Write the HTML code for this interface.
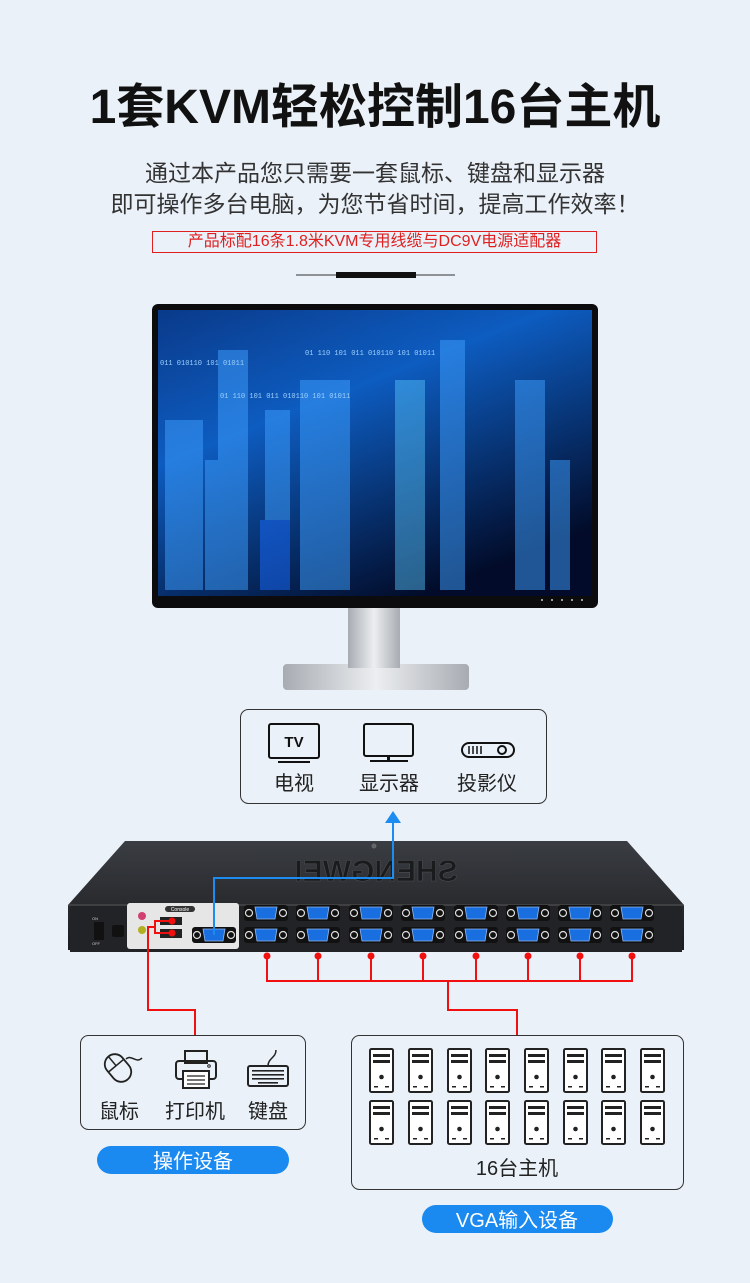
<!DOCTYPE html>
<html><head><meta charset="utf-8"><style>
html,body{margin:0;padding:0;background:#eaf1f8;}
body{width:750px;height:1283px;position:relative;overflow:hidden;font-family:"Liberation Sans","Noto Sans CJK SC",sans-serif;}
.t{position:absolute;left:0;width:750px;text-align:center;color:#111;}
</style></head><body>
<div class="t" style="top:78px;font-size:48px;font-weight:bold;line-height:60px;letter-spacing:0px">1套KVM轻松控制16台主机</div>
<div class="t" style="top:158px;font-size:23px;line-height:31px;color:#333">通过本产品您只需要一套鼠标、键盘和显示器<br>即可操作多台电脑，为您节省时间，提高工作效率！</div>
<div style="position:absolute;left:152px;top:231px;width:443px;height:20px;border:1px solid #e02020;color:#e02020;font-size:16px;line-height:20px;text-align:center">产品标配16条1.8米KVM专用线缆与DC9V电源适配器</div>
<svg width="750" height="1283" style="position:absolute;left:0;top:0" xmlns="http://www.w3.org/2000/svg">
<defs>
<linearGradient id="scr" x1="0" y1="0" x2="0.6" y2="1"><stop offset="0" stop-color="#0a3a8a"/><stop offset="0.4" stop-color="#0d5cc0"/><stop offset="1" stop-color="#020c2a"/></linearGradient>
<linearGradient id="stand" x1="0" y1="0" x2="1" y2="0"><stop offset="0" stop-color="#a8acb2"/><stop offset="0.5" stop-color="#eceef0"/><stop offset="1" stop-color="#a8acb2"/></linearGradient>
<linearGradient id="kvm" x1="0" y1="0" x2="0" y2="1"><stop offset="0" stop-color="#3a3d42"/><stop offset="1" stop-color="#1c1d20"/></linearGradient>
<g id="tower"><rect x="0" y="0" width="23" height="43" rx="1.5" fill="#fff" stroke="#222" stroke-width="2"/><rect x="3" y="5" width="17" height="3" fill="#222"/><rect x="3" y="11" width="17" height="3" fill="#222"/><circle cx="11.5" cy="28" r="2.3" fill="#222"/><rect x="4" y="37" width="4" height="1.5" fill="#222"/><rect x="15" y="37" width="4" height="1.5" fill="#222"/></g>
<g id="vga"><rect x="-22" y="-8" width="44" height="16" rx="3" fill="#111"/><circle cx="-17" cy="0" r="3.5" fill="none" stroke="#ddd" stroke-width="1.2"/><circle cx="17" cy="0" r="3.5" fill="none" stroke="#ddd" stroke-width="1.2"/><path d="M-11,-6 L11,-6 L9,6 L-9,6 Z" fill="#1a6fe0" stroke="#8fb6ee" stroke-width="0.8"/></g>
</defs>
<line x1="296" y1="275" x2="455" y2="275" stroke="#333" stroke-width="1"/>
<rect x="336" y="272" width="80" height="6" fill="#111"/>
<rect x="283" y="664" width="186" height="26" rx="4" fill="url(#stand)"/>
<rect x="348" y="606" width="52" height="62" fill="url(#stand)"/>
<rect x="152" y="304" width="446" height="304" rx="6" fill="#0c0c0e"/>
<rect x="158" y="310" width="434" height="286" fill="url(#scr)"/>
<g fill="#3fa0ff" opacity="0.5">
<rect x="165" y="420" width="38" height="170"/><rect x="205" y="460" width="30" height="130"/><rect x="218" y="350" width="30" height="240"/><rect x="265" y="410" width="25" height="180"/><rect x="300" y="380" width="50" height="210"/><rect x="395" y="380" width="30" height="210" fill="#5ac8ff" opacity="0.9"/><rect x="440" y="340" width="25" height="250"/><rect x="515" y="380" width="30" height="210"/><rect x="550" y="460" width="20" height="130"/><rect x="260" y="520" width="30" height="70" fill="#1a6dff" opacity="1"/>
</g>
<g fill="#9cd0ff" font-size="7" font-family="Liberation Mono"><text x="160" y="365">011 010110 101 01011</text><text x="305" y="355">01 110 101 011 010110 101 01011</text><text x="220" y="398">01 110 101 011 010110 101 01011</text></g>
<g fill="#ccc"><circle cx="542" cy="600" r="1"/><circle cx="552" cy="600" r="1"/><circle cx="562" cy="600" r="1"/><circle cx="572" cy="600" r="1"/><circle cx="582" cy="600" r="1"/></g>
<rect x="240.5" y="709.5" width="306" height="94" rx="8" fill="none" stroke="#333" stroke-width="1"/>
<rect x="269" y="724" width="50" height="34" rx="2" fill="none" stroke="#111" stroke-width="2"/>
<text x="294" y="747" font-size="15" font-weight="bold" text-anchor="middle" fill="#111">TV</text>
<rect x="278" y="761" width="32" height="2" fill="#111"/>
<rect x="364" y="724" width="49" height="32" rx="2" fill="none" stroke="#111" stroke-width="2"/>
<rect x="387" y="756" width="3" height="5" fill="#111"/><rect x="370" y="760" width="38" height="2" fill="#111"/>
<rect x="462" y="743" width="52" height="14" rx="7" fill="none" stroke="#111" stroke-width="2"/>
<g stroke="#111" stroke-width="1.5"><line x1="469" y1="746" x2="469" y2="754"/><line x1="473" y1="746" x2="473" y2="754"/><line x1="477" y1="746" x2="477" y2="754"/><line x1="481" y1="746" x2="481" y2="754"/></g>
<circle cx="502" cy="750" r="4" fill="none" stroke="#111" stroke-width="2"/>
<g font-size="20" fill="#222" text-anchor="middle"><text x="294" y="790">电视</text><text x="389" y="790">显示器</text><text x="487" y="790">投影仪</text></g>
<path d="M125,841 L627,841 L684,905 L684,950 L68,950 L68,905 Z" fill="url(#kvm)"/>
<path d="M68,905 L684,905" stroke="#555" stroke-width="1"/>
<rect x="70" y="906" width="612" height="46" fill="#222326"/>
<text x="376" y="881" font-size="30" font-weight="bold" fill="#1a1b1d" stroke="#4a4c50" stroke-width="0.6" text-anchor="middle" transform="scale(-1,1) translate(-752,0)" font-family="Liberation Sans">SHENGWEI</text>
<circle cx="374" cy="846" r="2.5" fill="#666"/>
<rect x="127" y="903" width="112" height="46" rx="3" fill="#e6e6e6"/>
<rect x="165" y="906" width="30" height="6" rx="3" fill="#333"/>
<text x="180" y="911" font-size="5" fill="#fff" text-anchor="middle">Console</text>
<circle cx="142" cy="916" r="4" fill="#d04070"/><circle cx="142" cy="930" r="4" fill="#b0b020"/>
<rect x="160" y="917" width="22" height="8" fill="#222"/><rect x="160" y="929" width="22" height="9" fill="#222"/>
<rect x="94" y="922" width="10" height="18" fill="#111"/><rect x="112" y="925" width="12" height="12" rx="2" fill="#111"/>
<g font-size="4" fill="#ccc"><text x="92" y="920">ON</text><text x="92" y="945">OFF</text></g>
<use href="#vga" x="214" y="935"/>
<g>
<use href="#vga" x="266" y="913"/><use href="#vga" x="318" y="913"/><use href="#vga" x="371" y="913"/><use href="#vga" x="423" y="913"/><use href="#vga" x="476" y="913"/><use href="#vga" x="528" y="913"/><use href="#vga" x="580" y="913"/><use href="#vga" x="632" y="913"/>
<use href="#vga" x="266" y="935"/><use href="#vga" x="318" y="935"/><use href="#vga" x="371" y="935"/><use href="#vga" x="423" y="935"/><use href="#vga" x="476" y="935"/><use href="#vga" x="528" y="935"/><use href="#vga" x="580" y="935"/><use href="#vga" x="632" y="935"/>
</g>
<polyline points="214,935 214,878 393,878 393,822" fill="none" stroke="#1d8cf0" stroke-width="2"/>
<path d="M385,823 L393,811 L401,823 Z" fill="#1d8cf0"/>
<g stroke="#f01010" stroke-width="2" fill="none">
<polyline points="172,921 155,921 155,933 172,933"/>
<polyline points="155,927 148,927 148,1010 195,1010 195,1035"/>
<polyline points="267,956 267,981 632,981 632,956"/>
<line x1="318" y1="956" x2="318" y2="981"/><line x1="371" y1="956" x2="371" y2="981"/><line x1="423" y1="956" x2="423" y2="981"/><line x1="476" y1="956" x2="476" y2="981"/><line x1="528" y1="956" x2="528" y2="981"/><line x1="580" y1="956" x2="580" y2="981"/>
<polyline points="448,981 448,1010 517,1010 517,1035"/>
</g>
<g fill="#f01010"><circle cx="172" cy="921" r="3.5"/><circle cx="172" cy="933" r="3.5"/>
<circle cx="267" cy="956" r="3.5"/><circle cx="318" cy="956" r="3.5"/><circle cx="371" cy="956" r="3.5"/><circle cx="423" cy="956" r="3.5"/><circle cx="476" cy="956" r="3.5"/><circle cx="528" cy="956" r="3.5"/><circle cx="580" cy="956" r="3.5"/><circle cx="632" cy="956" r="3.5"/></g>
<rect x="80.5" y="1035.5" width="225" height="94" rx="8" fill="none" stroke="#333" stroke-width="1"/>
<g transform="translate(118,1068) rotate(-40)"><rect x="-10" y="-15" width="20" height="30" rx="10" fill="none" stroke="#222" stroke-width="1.8"/><line x1="-10" y1="-3" x2="10" y2="-3" stroke="#222" stroke-width="1.5"/><line x1="0" y1="-15" x2="0" y2="-3" stroke="#222" stroke-width="1.5"/></g>
<path d="M126,1059 C132,1054 136,1064 142,1058" fill="none" stroke="#222" stroke-width="1.5"/>
<rect x="185" y="1051" width="22" height="12" fill="none" stroke="#222" stroke-width="2"/>
<rect x="176" y="1061" width="40" height="18" rx="3" fill="none" stroke="#222" stroke-width="2"/>
<rect x="183" y="1071" width="26" height="17" fill="#fff" stroke="#222" stroke-width="2"/>
<g stroke="#222" stroke-width="1.3"><line x1="187" y1="1076" x2="205" y2="1076"/><line x1="187" y1="1080" x2="205" y2="1080"/><line x1="187" y1="1084" x2="205" y2="1084"/></g>
<circle cx="209" cy="1066" r="1.3" fill="none" stroke="#222"/>
<path d="M268,1066 C268,1058 276,1058 276,1050" fill="none" stroke="#222" stroke-width="1.5"/>
<rect x="248" y="1066" width="40" height="20" rx="2" fill="none" stroke="#222" stroke-width="2"/>
<g fill="#222"><rect x="252" y="1070" width="32" height="1.6"/><rect x="252" y="1074" width="32" height="1.6"/><rect x="252" y="1078" width="32" height="1.6"/><rect x="258" y="1082" width="20" height="1.6"/></g>
<g font-size="20" fill="#222" text-anchor="middle"><text x="119" y="1118">鼠标</text><text x="195" y="1118">打印机</text><text x="268" y="1118">键盘</text></g>
<rect x="97" y="1146" width="192" height="28" rx="14" fill="#1a8af0"/>
<text x="193" y="1168" font-size="20" fill="#fff" text-anchor="middle">操作设备</text>
<rect x="351.5" y="1035.5" width="332" height="154" rx="8" fill="none" stroke="#333" stroke-width="1"/>
<g>
<use href="#tower" x="370" y="1049"/><use href="#tower" x="409" y="1049"/><use href="#tower" x="448" y="1049"/><use href="#tower" x="486" y="1049"/><use href="#tower" x="525" y="1049"/><use href="#tower" x="564" y="1049"/><use href="#tower" x="602" y="1049"/><use href="#tower" x="641" y="1049"/>
<use href="#tower" x="370" y="1101"/><use href="#tower" x="409" y="1101"/><use href="#tower" x="448" y="1101"/><use href="#tower" x="486" y="1101"/><use href="#tower" x="525" y="1101"/><use href="#tower" x="564" y="1101"/><use href="#tower" x="602" y="1101"/><use href="#tower" x="641" y="1101"/>
</g>
<text x="517" y="1175" font-size="20" fill="#222" text-anchor="middle">16台主机</text>
<rect x="422" y="1205" width="191" height="28" rx="14" fill="#1a8af0"/>
<text x="517" y="1227" font-size="20" fill="#fff" text-anchor="middle">VGA输入设备</text>
</svg>
</body></html>
